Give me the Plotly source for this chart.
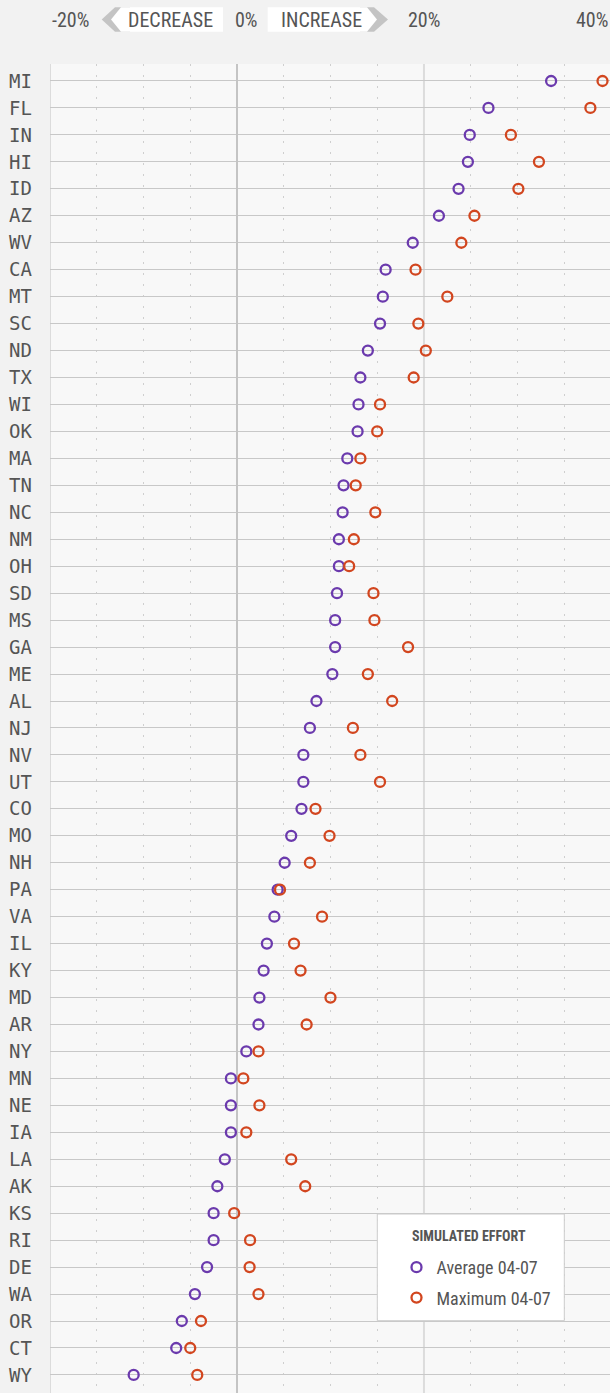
import plotly.graph_objects as go

states = ["MI", "FL", "IN", "HI", "ID", "AZ", "WV", "CA", "MT", "SC", "ND", "TX", "WI", "OK",
          "MA", "TN", "NC", "NM", "OH", "SD", "MS", "GA", "ME", "AL", "NJ", "NV", "UT", "CO",
          "MO", "NH", "PA", "VA", "IL", "KY", "MD", "AR", "NY", "MN", "NE", "IA", "LA", "AK",
          "KS", "RI", "DE", "WA", "OR", "CT", "WY"]
average_04_07 = [33.6, 26.9, 24.9, 24.7, 23.7, 21.6, 18.8, 15.9, 15.6, 15.3, 14.0, 13.2, 13.0, 12.9,
                 11.8, 11.4, 11.3, 10.9, 10.9, 10.7, 10.5, 10.5, 10.2, 8.5, 7.8, 7.1, 7.1, 6.9,
                 5.8, 5.1, 4.35, 4.0, 3.2, 2.85, 2.4, 2.3, 1.0, -0.65, -0.65, -0.65, -1.3, -2.1,
                 -2.5, -2.5, -3.2, -4.5, -5.9, -6.5, -11.05]
maximum_04_07 = [39.1, 37.8, 29.3, 32.3, 30.1, 25.4, 24.0, 19.1, 22.5, 19.4, 20.2, 18.9, 15.3, 15.0,
                 13.2, 12.7, 14.8, 12.5, 12.0, 14.6, 14.7, 18.3, 14.0, 16.6, 12.4, 13.2, 15.3, 8.4,
                 9.9, 7.8, 4.6, 9.1, 6.1, 6.8, 10.0, 7.45, 2.3, 0.68, 2.4, 1.0, 5.8, 7.3,
                 -0.3, 1.4, 1.35, 2.3, -3.85, -5.0, -4.25]
x_tick_vals = [-20, 0, 20, 40]
x_tick_labels = ["-20%", "0%", "20%", "40%"]
x_tick_anchors = ["left", "left", "center", "right"]
x_dotted_vals = [-15, -10, -5, 5, 10, 15, 25, 30, 35]
series_names = ["Average 04-07", "Maximum 04-07"]
legend_title = "SIMULATED EFFORT"

W, H = 610, 1393
ML, MT = 50, 64
PW, PH = W - ML, H - MT
X_MIN, X_MAX = -20, 39.9
PURPLE = "#6b3aad"
ORANGE = "#d2461f"
TEXT = "#555555"
NARROW = "Liberation Sans Narrow, Roboto Condensed, Arial Narrow, Roboto, sans-serif"


def px_x(p):
    return (p - ML) / PW


def px_y(p):
    return (H - p) / PH


def val_to_paper(v):
    return min((v - X_MIN) / (X_MAX - X_MIN), 1.0)


fig = go.Figure()
for name, vals, col in [(series_names[0], average_04_07, PURPLE),
                        (series_names[1], maximum_04_07, ORANGE)]:
    fig.add_trace(go.Scatter(
        x=vals, y=states, mode="markers", name=name, legendgroup=name,
        marker=dict(symbol="circle-open", size=10, color=col, line=dict(width=2.3, color=col)),
        cliponaxis=False,
    ))

n = len(states)
fig.update_layout(
    width=W, height=H,
    margin=dict(l=ML, r=0, t=MT, b=0, pad=0),
    paper_bgcolor="#f2f2f2",
    plot_bgcolor="#f8f8f8",
    showlegend=True,
    legend=dict(x=px_x(396.5), y=px_y(1249), xanchor="left", yanchor="top",
                bgcolor="rgba(0,0,0,0)", borderwidth=0,
                font=dict(family=NARROW, size=18, color=TEXT),
                tracegroupgap=4, itemclick=False),
    xaxis=dict(range=[X_MIN, X_MAX], showticklabels=False, ticks="",
               tickvals=x_dotted_vals, showgrid=True, gridcolor="#cfcfcf", gridwidth=1,
               griddash="2px,9px",
               zeroline=True, zerolinecolor="#c4c4c4", zerolinewidth=2, showline=False),
    yaxis=dict(type="category", categoryorder="array", categoryarray=states,
               range=[n - 1 + 0.67, -0.63], showgrid=True, gridcolor="#c8c8c8", gridwidth=1.3,
               ticks="", ticklabelstandoff=17, zeroline=False, showline=False,
               tickfont=dict(family="DejaVu Sans Mono", size=19, color=TEXT)),
)

# 20% reference line and left border
fig.add_shape(type="line", xref="x", yref="paper", x0=20, x1=20, y0=0, y1=1,
              line=dict(color="#dcdcdc", width=2), layer="below")
fig.add_shape(type="line", xref="x", yref="paper", x0=-20, x1=-20, y0=0, y1=1,
              line=dict(color="#dcdcdc", width=2), layer="below")

# header tick labels
for v, lab, anc in zip(x_tick_vals, x_tick_labels, x_tick_anchors):
    fig.add_annotation(x=val_to_paper(v), xref="paper", y=px_y(20), yref="paper", text=lab,
                       showarrow=False, xanchor=anc, yanchor="middle",
                       xshift=-4 if v == 0 else 0,
                       font=dict(family=NARROW, size=20, color=TEXT))


def path(points):
    return "M " + " L ".join(f"{px_x(a)},{px_y(b)}" for a, b in points) + " Z"


top, bot, mid = 7.3, 31.7, 19.5
# DECREASE chevron
fig.add_shape(type="path", xref="paper", yref="paper",
              path=path([(101.7, mid), (115, top), (130, top), (130, bot), (115, bot)]),
              fillcolor="#c4c4c4", line=dict(width=0))
fig.add_shape(type="path", xref="paper", yref="paper",
              path=path([(111, mid), (121, top), (223, top), (223, bot), (121, bot)]),
              fillcolor="#ffffff", line=dict(width=0))
# INCREASE chevron
fig.add_shape(type="path", xref="paper", yref="paper",
              path=path([(360, top), (374, top), (388, mid), (374, bot), (360, bot)]),
              fillcolor="#c4c4c4", line=dict(width=0))
fig.add_shape(type="path", xref="paper", yref="paper",
              path=path([(267.7, top), (367, top), (377, mid), (367, bot), (267.7, bot)]),
              fillcolor="#ffffff", line=dict(width=0))
fig.add_annotation(x=px_x(170.5), xref="paper", y=px_y(20), yref="paper", text="DECREASE",
                   showarrow=False, xanchor="center", yanchor="middle",
                   font=dict(family=NARROW, size=20, color=TEXT))
fig.add_annotation(x=px_x(321), xref="paper", y=px_y(20), yref="paper", text="INCREASE",
                   showarrow=False, xanchor="center", yanchor="middle",
                   font=dict(family=NARROW, size=20, color=TEXT))

# legend box
fig.add_shape(type="rect", xref="paper", yref="paper",
              x0=px_x(377.3), x1=px_x(564.3), y0=px_y(1320.7), y1=px_y(1214),
              fillcolor="#ffffff", line=dict(color="#cccccc", width=1), layer="above")
fig.add_annotation(x=px_x(410), xref="paper", y=px_y(1236), yref="paper",
                   text=f"<b>{legend_title}</b>", showarrow=False, xanchor="left",
                   yanchor="middle", font=dict(family=NARROW, size=14, color=TEXT))

fig.write_html("out.html", config={"displayModeBar": False},
               post_script="document.body.style.margin='0';")
